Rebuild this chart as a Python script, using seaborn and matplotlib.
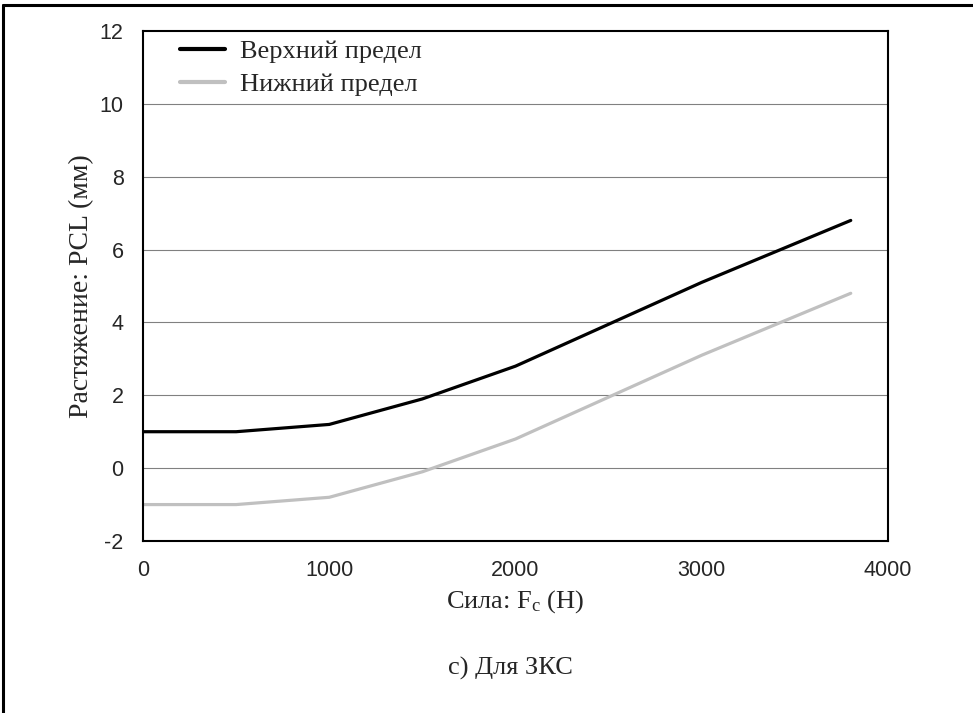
import numpy as np
import pandas as pd
import seaborn as sns
import matplotlib.pyplot as plt
from matplotlib.lines import Line2D

# data
force = [0, 500, 1000, 1500, 2000, 3000, 3800]
upper = [1.0, 1.0, 1.2, 1.9, 2.8, 5.1, 6.8]
lower = [-1.0, -1.0, -0.8, -0.1, 0.8, 3.1, 4.8]
series_names = ["Верхний предел", "Нижний предел"]
series_colors = ["#000000", "#c0c0c0"]

df = pd.DataFrame({
    "force": force * 2,
    "value": upper + lower,
    "series": [series_names[0]] * len(force) + [series_names[1]] * len(force),
})

sns.set_style("white")
plt.rcParams['font.family'] = ['Liberation Serif', 'DejaVu Serif']
plt.rcParams['mathtext.fontset'] = 'custom'
plt.rcParams['mathtext.rm'] = 'Liberation Serif'
plt.rcParams['axes.unicode_minus'] = False

fig = plt.figure(figsize=(9.73, 7.13), dpi=100)
ax = fig.add_axes([143 / 973, 1 - 541 / 713, (888 - 143) / 973, (541 - 31) / 713])

sns.lineplot(data=df, x="force", y="value", hue="series",
             palette=dict(zip(series_names, series_colors)),
             linewidth=2.3, ax=ax, legend=False)

ax.set_xlim(0, 4000)
ax.set_ylim(-2, 12)
ax.set_xticks([0, 1000, 2000, 3000, 4000])
ax.set_yticks([-2, 0, 2, 4, 6, 8, 10, 12])
for y in [0, 2, 4, 6, 8, 10]:
    ax.axhline(y, color="#808080", linewidth=0.8, zorder=0)

ax.tick_params(axis="both", direction="in", length=5, color="#a0a0a0", width=0.8,
               labelsize=15.5)
ax.tick_params(axis="x", pad=14)
ax.tick_params(axis="y", pad=14)
for lab in ax.get_xticklabels() + ax.get_yticklabels():
    lab.set_fontfamily(['Liberation Sans', 'DejaVu Sans'])
for sp in ax.spines.values():
    sp.set_color("black")
    sp.set_linewidth(1.5)

ax.set_xlabel(r"Сила: $\mathregular{F_c}$ (Н)", fontsize=19, labelpad=5)
ax.set_ylabel("Растяжение: PCL (мм)", fontsize=20, labelpad=4)

handles = [Line2D([], [], color=c, linewidth=3) for c in series_colors]
ax.legend(handles, series_names, loc="upper left", frameon=False, fontsize=19,
          handlelength=1.7, handletextpad=0.57, labelspacing=0.38,
          bbox_to_anchor=(0.025, 1.02), borderaxespad=0.3)

fig.text(510 / 973, 1 - 668 / 713, "c) Для ЗКС", ha="center", va="center", fontsize=19)

# page frame along the top and left edges
fig.add_artist(Line2D([3 / 973, 1], [1 - 5 / 713, 1 - 5 / 713], color="black", linewidth=2.2,
                      transform=fig.transFigure))
fig.add_artist(Line2D([3 / 973, 3 / 973], [0, 1 - 5 / 713], color="black", linewidth=2.2,
                      transform=fig.transFigure))

fig.savefig("out.png", dpi=100)
